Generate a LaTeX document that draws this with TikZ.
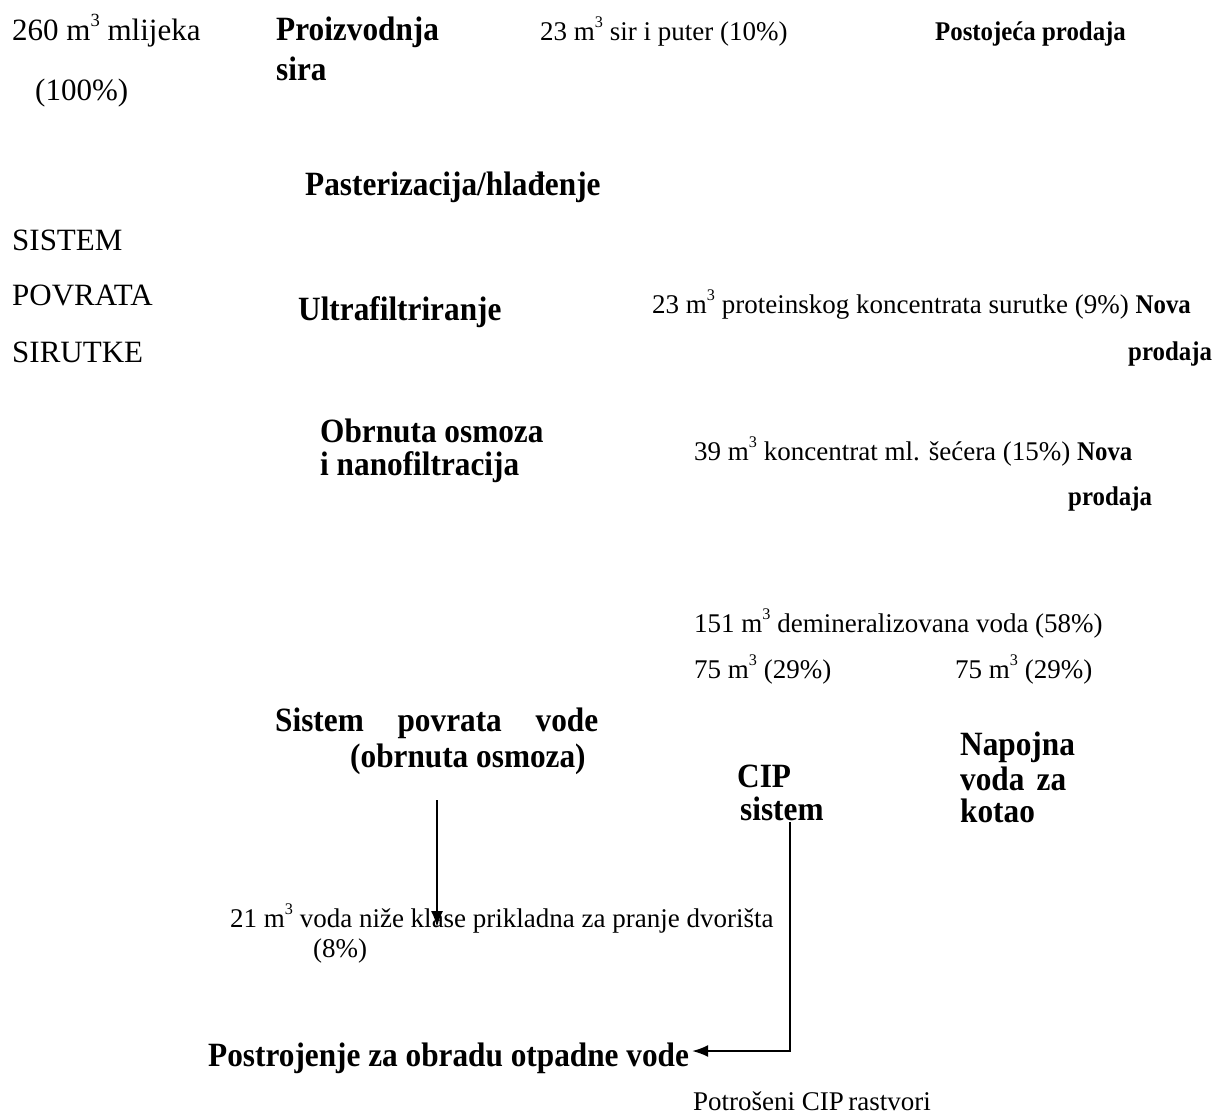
\documentclass[tikz,border=0pt]{standalone}
\usepackage{fontspec}
\setmainfont{Liberation Serif}[BoldFeatures={FakeStretch=0.92}]
\usetikzlibrary{arrows.meta}

\tikzset{
  txt/.style={anchor=base west, inner sep=0pt, font=\fontsize{27}{30}\selectfont},
  big/.style={txt, font=\fontsize{31}{37}\selectfont},
  hd/.style={txt, font=\bfseries\fontsize{34}{40}\selectfont},
  sale/.style={txt, font=\bfseries\fontsize{27}{30}\selectfont},
  flow/.style={line width=1.8pt, -{Latex[length=16pt,width=12pt]}}
}
\newcommand{\cub}{m\raisebox{.45em}{\scalebox{.6}{3}}}

\begin{document}
\begin{tikzpicture}[x=1pt,y=-1pt]
  \useasboundingbox (0,0) rectangle (1230,1117);
  % input milk
  \node[big] (milk1) at (12,40)  {260 \cub{} mlijeka};
  \node[big] (milk2) at (35,100) {(100\%)};
  \node[hd]  (chs1)  at (276,40) {Proizvodnja};
  \node[hd]  (chs2)  at (276,80) {sira};
  \node[txt] (chsout) at (540,40) {23 \cub{} sir i puter (10\%)};
  \node[sale] (sale0) at (935,40) {Postojeća prodaja};
  % whey recovery
  \node[hd]  (past)  at (305,195) {Pasterizacija/hlađenje};
  \node[big] (wr1)   at (12,250)  {SISTEM};
  \node[big] (wr2)   at (12,305)  {POVRATA};
  \node[big] (wr3)   at (12,362)  {SIRUTKE};
  \node[hd]  (uf)    at (298,320) {Ultrafiltriranje};
  \node[txt] (ufout) at (652,313) {23 \cub{} proteinskog koncentrata surutke (9\%) \textbf{Nova}};
  \node[sale] (sale1) at (1128,360) {prodaja};
  \node[hd]  (ro1)   at (320,442) {Obrnuta osmoza};
  \node[hd]  (ro2)   at (320,475) {i nanofiltracija};
  \node[txt] (roout) at (694,460) {39 \cub{} koncentrat ml. šećera (15\%) \textbf{Nova}};
  \node[sale] (sale2) at (1068,505) {prodaja};
  % water
  \node[txt] (demi)  at (694,632) {151 \cub{} demineralizovana voda (58\%)};
  \node[txt] (half1) at (694,678) {75 \cub{} (29\%)};
  \node[txt] (half2) at (955,678) {75 \cub{} (29\%)};
  \node[hd]  (wrs1)  at (275,731) {\makebox[323pt][s]{Sistem povrata vode}};
  \node[hd]  (wrs2)  at (350,767) {(obrnuta osmoza)};
  \node[hd]  (cip1)  at (737,787) {CIP};
  \node[hd]  (cip2)  at (740,820) {sistem};
  \node[hd]  (boil1) at (960,755) {Napojna};
  \node[hd]  (boil2) at (960,790) {\makebox[106pt][s]{voda za}};
  \node[hd]  (boil3) at (960,822) {kotao};
  \node[txt] (yard1) at (230,927) {21 \cub{} voda niže klase prikladna za pranje dvorišta};
  \node[txt] (yard2) at (313,957) {(8\%)};
  \node[hd,inner sep=3pt] (wwtp) at (205,1066) {Postrojenje za obradu otpadne vode};
  \node[txt] (spent) at (693,1110) {Potrošeni CIP\,rastvori};
  % connectors
  \coordinate (ra) at (437,800);
  \coordinate (rb) at (437,927);
  \coordinate (ca) at (790,822);
  \coordinate (cb) at (790,1051);
  \draw[flow] (ra) -- (rb);
  \draw[flow] (ca) -- (cb) -- (wwtp.east |- cb);
\end{tikzpicture}
\end{document}
